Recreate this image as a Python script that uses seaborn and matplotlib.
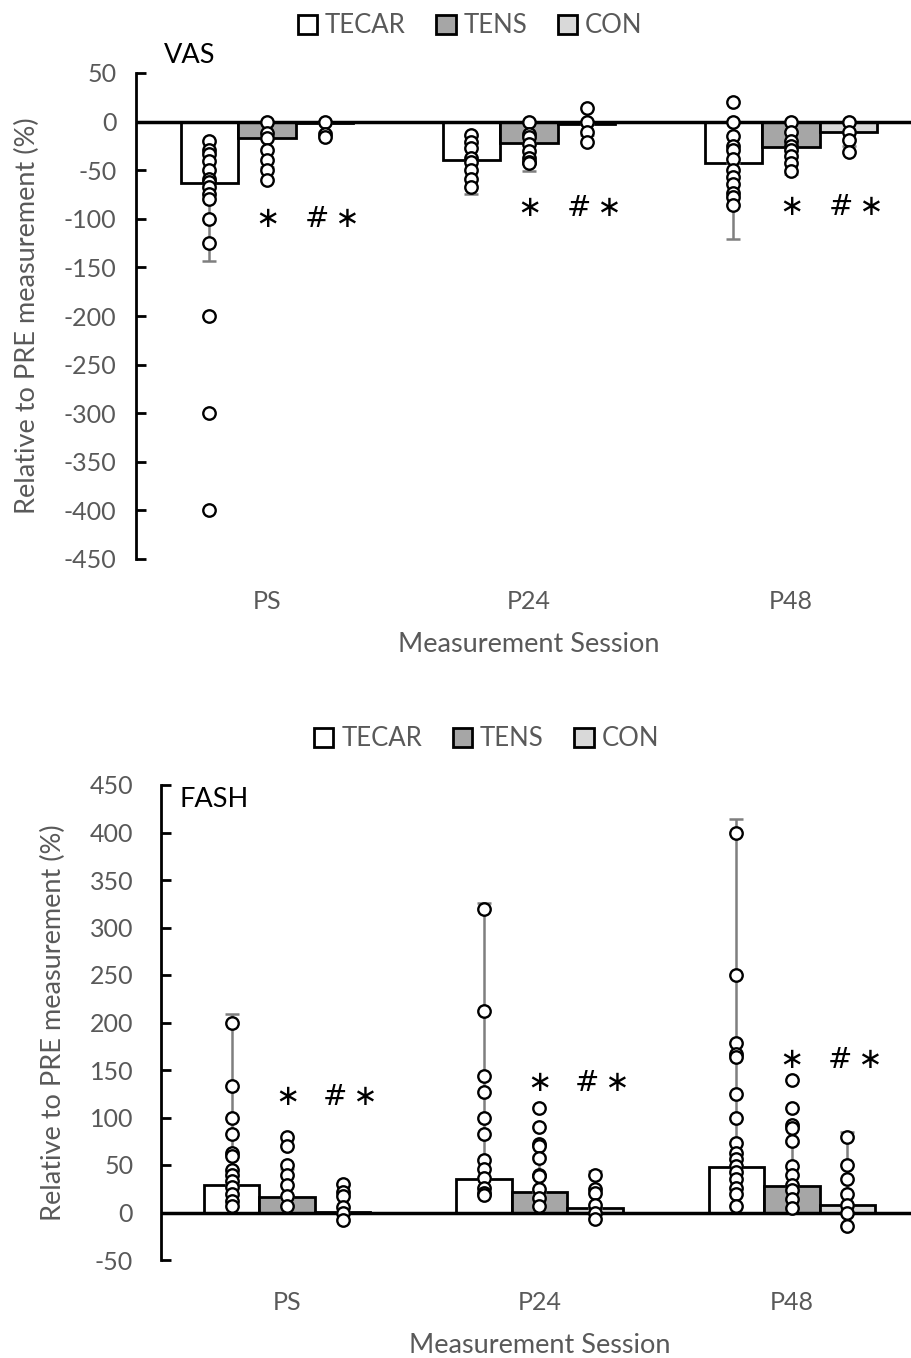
# ==========================================
# Relative change vs PRE: VAS (top) and FASH (bottom)
# ==========================================

import numpy as np
import pandas as pd
import seaborn as sns
import matplotlib.pyplot as plt

sessions = ['PS', 'P24', 'P48']
groups = ['TECAR', 'TENS', 'CON']
group_colors = ['#ffffff', '#a6a6a6', '#d9d9d9']

# ---- VAS (top panel) ----
vas_tecar_mean = [-63, -39, -43]
vas_tens_mean = [-17, -22, -26]
vas_con_mean = [-1, -2, -11]
vas_tecar_sd = [80, 36, 78]
vas_tens_sd = [30, 29, 28]
vas_con_sd = [10, 12, 14]

vas_tecar_dots = [[-20, -29, -33, -41, -50, -59, -62, -67, -75, -80, -100, -125, -200, -300, -400],
                  [-14, -21, -27, -37, -42, -50, -59, -67],
                  [20, 0, -15, -25, -29, -38, -50, -57, -64, -73, -78, -86]]
vas_tens_dots = [[0, -12, -17, -29, -40, -50, -60],
                 [0, -13, -16, -23, -30, -37, -42, -43],
                 [0, -11, -20, -25, -29, -35, -43, -51]]
vas_con_dots = [[0, -13, -16],
                [14, 0, -11, -21],
                [0, -11, -19, -31]]
vas_star_y = [-100, -89, -88]

# ---- FASH (bottom panel) ----
fash_tecar_mean = [29, 35, 48]
fash_tens_mean = [16, 22, 28]
fash_con_mean = [1, 5, 8]
fash_tecar_sd = [180, 291, 366]
fash_tens_sd = [30, 37, 45]
fash_con_sd = [29, 39, 77]

fash_tecar_dots = [[200, 133, 100, 83, 63, 59, 45, 40, 33, 27, 19, 12, 7],
                   [320, 212, 144, 127, 100, 83, 55, 46, 36, 26, 21, 18],
                   [400, 250, 178, 167, 164, 125, 100, 73, 63, 56, 49, 43, 35, 26, 20, 7]]
fash_tens_dots = [[80, 70, 50, 40, 29, 17, 7],
                  [110, 90, 72, 70, 57, 40, 38, 25, 15, 7],
                  [140, 110, 92, 89, 75, 49, 40, 29, 24, 14, 5]]
fash_con_dots = [[30, 22, 17, 6, 0, -8],
                 [40, 25, 21, 8, 0, -7],
                 [80, 50, 35, 19, 8, 0, -14]]
fash_star_y = [122, 136, 160]

sns.set_style('white')
plt.rcParams['font.family'] = ['Lato', 'DejaVu Sans']
plt.rcParams['axes.unicode_minus'] = False
GRAY = '#595959'
TICK_FS = 18
LABEL_FS = 19.5


def draw_panel(ax, means, sds, dots, star_y, ylim, yticks, title, title_xy, leg_x, ypad, ylabpad):
    # bar table
    rows = []
    for g, m in zip(groups, means):
        for s, v in zip(sessions, m):
            rows.append({'session': s, 'group': g, 'value': v})
    bars = pd.DataFrame(rows)

    sns.barplot(data=bars, x='session', y='value', hue='group', order=sessions,
                hue_order=groups, palette=group_colors, width=0.66, errorbar=None,
                edgecolor='black', linewidth=2, saturation=1, ax=ax, zorder=2)

    # bar centres from the drawn bars
    centres = []
    for cont in ax.containers:
        centres.append([p.get_x() + p.get_width() / 2 for p in cont.patches])

    # one-sided error bars (in direction of the mean)
    for gi in range(len(groups)):
        m = np.array(means[gi], dtype=float)
        sd = np.array(sds[gi], dtype=float)
        lower = np.where(m < 0, sd, 0)
        upper = np.where(m >= 0, sd, 0)
        ax.errorbar(centres[gi], m, yerr=[lower, upper], fmt='none',
                    ecolor='#7f7f7f', elinewidth=1.8, capsize=5, capthick=1.8, zorder=3)

    # individual points
    pts = []
    for gi, g in enumerate(groups):
        for si, s in enumerate(sessions):
            for v in dots[gi][si]:
                pts.append({'x': centres[gi][si], 'value': v, 'group': g})
    pts = pd.DataFrame(pts)
    sns.scatterplot(data=pts, x='x', y='value', marker='o', s=80, color='white',
                    edgecolor='black', linewidth=1.7, legend=False, ax=ax, zorder=4)

    # significance marks
    for si in range(len(sessions)):
        ax.text(centres[1][si], star_y[si], '∗', ha='center', va='center',
                fontsize=21, family=['DejaVu Sans'], color='black')
        ax.text(centres[2][si] + 0.03, star_y[si], '#\u2009∗', ha='center', va='center',
                fontsize=21, family=['DejaVu Sans'], color='black')

    ax.axhline(0, color='black', lw=2.5, zorder=2.5)
    ax.set_ylim(*ylim)
    ax.set_xlim(-0.5, 2.5)
    ax.set_yticks(yticks)
    ax.tick_params(axis='y', direction='in', length=7, width=2, color='black',
                   labelsize=TICK_FS, labelcolor=GRAY, pad=ypad, left=True)
    ax.tick_params(axis='x', length=0, labelsize=TICK_FS, labelcolor=GRAY, pad=22)
    for side in ['top', 'right', 'bottom']:
        ax.spines[side].set_visible(False)
    ax.spines['left'].set_linewidth(2)
    ax.spines['left'].set_color('black')
    ax.set_xlabel('Measurement Session', fontsize=LABEL_FS, color=GRAY, labelpad=14)
    ax.set_ylabel('Relative to PRE measurement (%)', fontsize=LABEL_FS, color=GRAY,
                  labelpad=ylabpad)
    ax.text(title_xy[0], title_xy[1], title, transform=ax.transAxes,
            fontsize=LABEL_FS, color='black', ha='left', va='top')

    handles, labels = ax.get_legend_handles_labels()
    ax.legend(handles, labels, ncol=3, frameon=False, loc='center',
              bbox_to_anchor=(leg_x, 1.097), fontsize=TICK_FS + 0.5, labelcolor=GRAY,
              handlelength=0.75, handleheight=0.75, handletextpad=0.3,
              columnspacing=1.2, borderaxespad=0)


fig = plt.figure(figsize=(9.12, 13.58), dpi=100)
ax1 = fig.add_axes([136 / 912, 1 - 559 / 1358, 786 / 912, 486 / 1358])
ax2 = fig.add_axes([161 / 912, 1 - 1260 / 1358, 757 / 912, 475 / 1358])

draw_panel(ax1,
           [vas_tecar_mean, vas_tens_mean, vas_con_mean],
           [vas_tecar_sd, vas_tens_sd, vas_con_sd],
           [vas_tecar_dots, vas_tens_dots, vas_con_dots],
           vas_star_y, (-450, 50), np.arange(-450, 51, 50), 'VAS', (0.036, 1.062), 0.425, 14, 17)

draw_panel(ax2,
           [fash_tecar_mean, fash_tens_mean, fash_con_mean],
           [fash_tecar_sd, fash_tens_sd, fash_con_sd],
           [fash_tecar_dots, fash_tens_dots, fash_con_dots],
           fash_star_y, (-50, 450), np.arange(-50, 451, 50), 'FASH', (0.025, 0.995), 0.43, 20, 17)

fig.savefig('out.png', dpi=100)
